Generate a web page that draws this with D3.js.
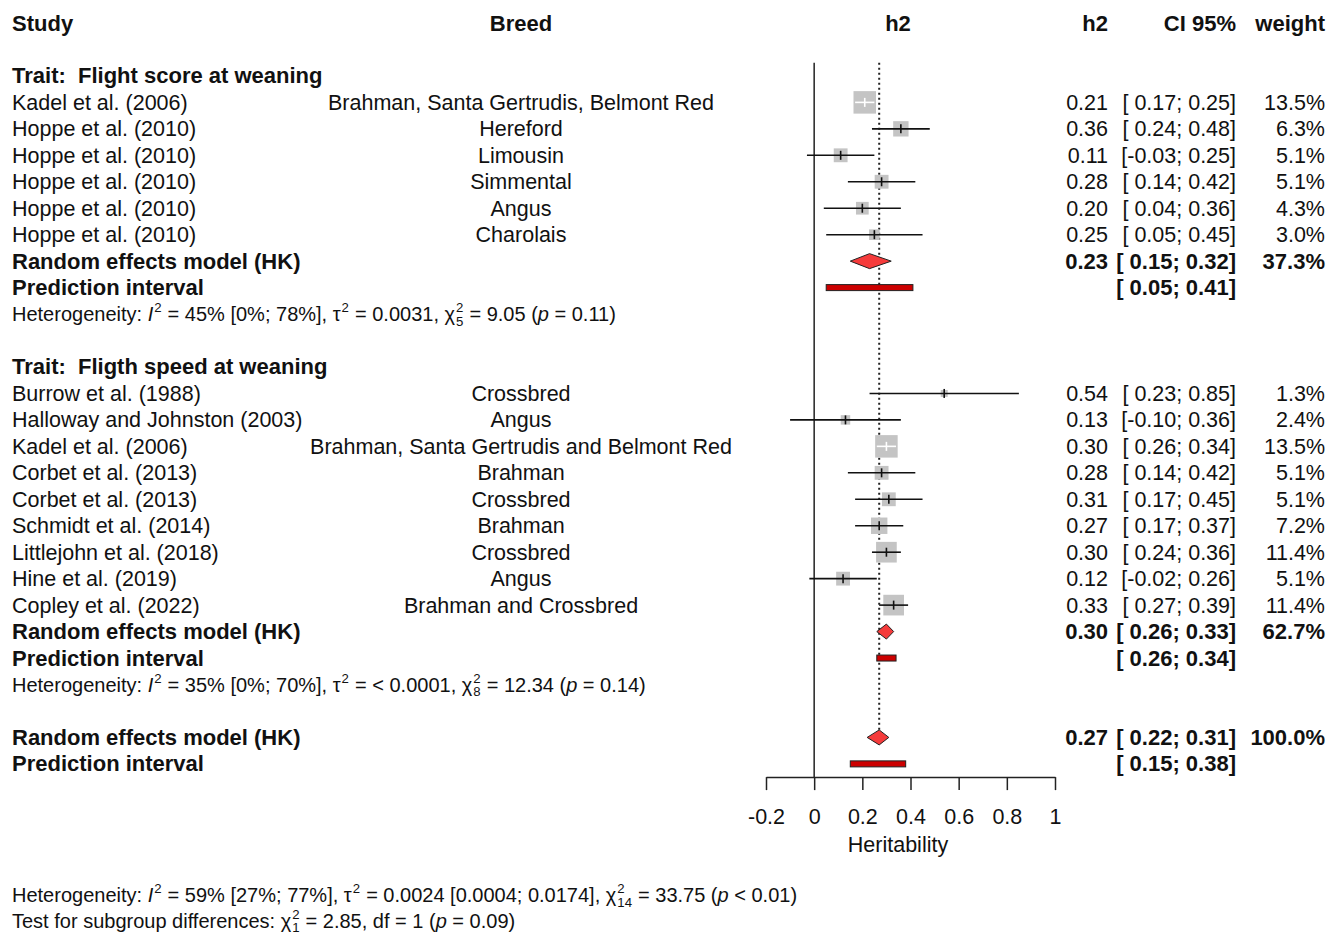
<!DOCTYPE html>
<html>
<head>
<meta charset="utf-8">
<script src="https://cdn.jsdelivr.net/npm/d3@7"></script>
<style>
  body { margin: 0; background: #fff; }
  svg { display: block; font-family: "Liberation Sans", Arial, sans-serif; }
</style>
</head>
<body>
<svg id="forest" width="1328" height="936"></svg>
<script>
// ---- data ----
var traits = ["Flight score at weaning", "Fligth speed at weaning"];

// trait 1 studies
var studies1 = ["Kadel et al. (2006)", "Hoppe et al. (2010)", "Hoppe et al. (2010)", "Hoppe et al. (2010)", "Hoppe et al. (2010)", "Hoppe et al. (2010)"];
var breeds1  = ["Brahman, Santa Gertrudis, Belmont Red", "Hereford", "Limousin", "Simmental", "Angus", "Charolais"];
var h2_1     = [0.21, 0.36, 0.11, 0.28, 0.20, 0.25];
var lower1   = [0.17, 0.24, -0.03, 0.14, 0.04, 0.05];
var upper1   = [0.25, 0.48, 0.25, 0.42, 0.36, 0.45];
var weight1  = [13.5, 6.3, 5.1, 5.1, 4.3, 3.0];

// trait 2 studies
var studies2 = ["Burrow et al. (1988)", "Halloway and Johnston (2003)", "Kadel et al. (2006)", "Corbet et al. (2013)", "Corbet et al. (2013)", "Schmidt et al. (2014)", "Littlejohn et al. (2018)", "Hine et al. (2019)", "Copley et al. (2022)"];
var breeds2  = ["Crossbred", "Angus", "Brahman, Santa Gertrudis and Belmont Red", "Brahman", "Crossbred", "Brahman", "Crossbred", "Angus", "Brahman and Crossbred"];
var h2_2     = [0.54, 0.13, 0.30, 0.28, 0.31, 0.27, 0.30, 0.12, 0.33];
var lower2   = [0.23, -0.10, 0.26, 0.14, 0.17, 0.17, 0.24, -0.02, 0.27];
var upper2   = [0.85, 0.36, 0.34, 0.42, 0.45, 0.37, 0.36, 0.26, 0.39];
var weight2  = [1.3, 2.4, 13.5, 5.1, 5.1, 7.2, 11.4, 5.1, 11.4];

// pooled estimates: trait 1, trait 2, overall
var pooledEst    = [0.23, 0.30, 0.27];
var pooledLower  = [0.15, 0.26, 0.22];
var pooledUpper  = [0.32, 0.33, 0.31];
var pooledWeight = ["37.3%", "62.7%", "100.0%"];
var predLower    = [0.05, 0.26, 0.15];
var predUpper    = [0.41, 0.34, 0.38];

var xTicks = [-0.2, 0, 0.2, 0.4, 0.6, 0.8, 1];

// heterogeneity lines: [text, kind, extra]
var het1 = [["Heterogeneity: "], ["I", "i"], ["2", "sup"], [" = 45% [0%; 78%], "], ["τ"], ["2", "sup"], [" = 0.0031, "], ["χ"], ["2", "supsub", "5"], [" = 9.05 ("], ["p", "i"], [" = 0.11)"]];
var het2 = [["Heterogeneity: "], ["I", "i"], ["2", "sup"], [" = 35% [0%; 70%], "], ["τ"], ["2", "sup"], [" = < 0.0001, "], ["χ"], ["2", "supsub", "8"], [" = 12.34 ("], ["p", "i"], [" = 0.14)"]];
var hetAll = [["Heterogeneity: "], ["I", "i"], ["2", "sup"], [" = 59% [27%; 77%], "], ["τ"], ["2", "sup"], [" = 0.0024 [0.0004; 0.0174], "], ["χ"], ["2", "supsub", "14"], [" = 33.75 ("], ["p", "i"], [" < 0.01)"]];
var subgroupTest = [["Test for subgroup differences: "], ["χ"], ["2", "supsub", "1"], [" = 2.85, df = 1 ("], ["p", "i"], [" = 0.09)"]];

// ---- layout ----
var svg = d3.select("#forest");
var fs = 21.5, fsBold = 22, fsSmall = 20;
var colStudy = 12, colBreed = 521, colPlotHead = 898, colH2 = 1108, colCI = 1236, colW = 1325;

// one row = one line of the table
var rowY = d3.scaleLinear().domain([0, 34]).range([23, 23 + 34 * 26.46]);
var x = d3.scaleLinear().domain([-0.2, 1]).range([766, 1055]);
var boxSize = d3.scaleSqrt().domain([0, 13.5]).range([0, 22.5]);

function fmt(v) { return v.toFixed(2); }   // keeps a plain hyphen for negatives
function ci(lo, hi) {
  return "[" + (lo < 0 ? "" : " ") + fmt(lo) + "; " + fmt(hi) + "]";
}

// assemble study rows
var rows = [];
studies1.forEach(function(s, i) {
  rows.push({row: 3 + i, study: s, breed: breeds1[i], est: h2_1[i], lo: lower1[i], hi: upper1[i], w: weight1[i]});
});
studies2.forEach(function(s, i) {
  rows.push({row: 14 + i, study: s, breed: breeds2[i], est: h2_2[i], lo: lower2[i], hi: upper2[i], w: weight2[i]});
});
var pooled = [9, 23, 27].map(function(r, i) {
  return {row: r, est: pooledEst[i], lo: pooledLower[i], hi: pooledUpper[i], w: pooledWeight[i], plo: predLower[i], phi: predUpper[i]};
});

function addText(txt, xx, row, anchor, bold) {
  return svg.append("text")
    .attr("x", xx)
    .attr("y", rowY(row) + 7.5)
    .attr("text-anchor", anchor)
    .attr("font-size", bold ? fsBold : fs)
    .attr("font-weight", bold ? "bold" : "normal")
    .attr("fill", "#111")
    .style("white-space", "pre")
    .text(txt);
}

// header
addText("Study", colStudy, 0, "start", true);
addText("Breed", colBreed, 0, "middle", true);
addText("h2", colPlotHead, 0, "middle", true);
addText("h2", colH2, 0, "end", true);
addText("CI 95%", colCI, 0, "end", true);
addText("weight", colW, 0, "end", true);

// trait labels
addText("Trait:  " + traits[0], colStudy, 2, "start", true);
addText("Trait:  " + traits[1], colStudy, 13, "start", true);

// study text columns
rows.forEach(function(d) {
  addText(d.study, colStudy, d.row, "start", false);
  addText(d.breed, colBreed, d.row, "middle", false);
  addText(fmt(d.est), colH2, d.row, "end", false);
  addText(ci(d.lo, d.hi), colCI, d.row, "end", false);
  addText(d.w.toFixed(1) + "%", colW, d.row, "end", false);
});

pooled.forEach(function(d) {
  addText("Random effects model (HK)", colStudy, d.row, "start", true);
  addText("Prediction interval", colStudy, d.row + 1, "start", true);
  addText(fmt(d.est), colH2, d.row, "end", true);
  addText(ci(d.lo, d.hi), colCI, d.row, "end", true);
  addText(d.w, colW, d.row, "end", true);
  addText(ci(d.plo, d.phi), colCI, d.row + 1, "end", true);
});

// heterogeneity text with stacked super/subscripts
function richLine(parts, row, size, lift) {
  var g = svg.append("g").attr("fill", "#111").attr("font-size", size);
  var cx = colStudy, base = rowY(row) + 7 - (lift || 0), small = size * 0.66;
  parts.forEach(function(p) {
    var kind = p[1] || "n";
    if (kind === "sup" || kind === "supsub") {
      var t1 = g.append("text").attr("x", cx + 1).attr("y", base - 9).attr("font-size", small).text(p[0]);
      var w = t1.node().getComputedTextLength();
      if (kind === "supsub") {
        var t2 = g.append("text").attr("x", cx + 1).attr("y", base + 4.5).attr("font-size", small).text(p[2]);
        w = Math.max(w, t2.node().getComputedTextLength());
      }
      cx += w + 1.5;
    } else {
      var t = g.append("text").attr("x", cx).attr("y", base)
        .style("white-space", "pre")
        .attr("font-style", kind === "i" ? "italic" : "normal")
        .text(p[0]);
      cx += t.node().getComputedTextLength();
    }
  });
}
richLine(het1, 11, fsSmall);
richLine(het2, 25, fsSmall);
richLine(hetAll, 33, fsSmall, 1);
richLine(subgroupTest, 34, fsSmall, 2);

// ---- plot ----
var plot = svg.append("g");

// line of no effect
plot.append("line")
  .attr("x1", x(0)).attr("x2", x(0))
  .attr("y1", rowY(1.5)).attr("y2", rowY(28.5))
  .attr("stroke", "#222").attr("stroke-width", 1.5);

// overall random effects line
plot.append("line")
  .attr("x1", x(pooledEst[2])).attr("x2", x(pooledEst[2]))
  .attr("y1", rowY(1.5)).attr("y2", rowY(27) - 7.5)
  .attr("stroke", "#222").attr("stroke-width", 2)
  .attr("stroke-dasharray", "2,3");

// study squares
plot.selectAll("rect.box")
  .data(rows)
  .enter().append("rect")
    .attr("class", "box")
    .attr("x", function(d) { return x(d.est) - boxSize(d.w) / 2; })
    .attr("y", function(d) { return rowY(d.row) - boxSize(d.w) / 2; })
    .attr("width", function(d) { return boxSize(d.w); })
    .attr("height", function(d) { return boxSize(d.w); })
    .attr("fill", "#c4c4c4");

// CI inside the box is drawn white
function ciColor(d) { return (x(d.hi) - x(d.lo)) < boxSize(d.w) ? "#fff" : "#111"; }

plot.selectAll("line.ci")
  .data(rows)
  .enter().append("line")
    .attr("class", "ci")
    .attr("x1", function(d) { return x(d.lo); })
    .attr("x2", function(d) { return x(d.hi); })
    .attr("y1", function(d) { return rowY(d.row); })
    .attr("y2", function(d) { return rowY(d.row); })
    .attr("stroke", ciColor)
    .attr("stroke-width", 1.6);

plot.selectAll("line.mid")
  .data(rows)
  .enter().append("line")
    .attr("class", "mid")
    .attr("x1", function(d) { return x(d.est); })
    .attr("x2", function(d) { return x(d.est); })
    .attr("y1", function(d) { return rowY(d.row) - 4.5; })
    .attr("y2", function(d) { return rowY(d.row) + 4.5; })
    .attr("stroke", ciColor)
    .attr("stroke-width", 1.6);

// pooled diamonds
plot.selectAll("path.diamond")
  .data(pooled)
  .enter().append("path")
    .attr("class", "diamond")
    .attr("d", function(d) {
      var y = rowY(d.row);
      return "M" + x(d.lo) + "," + y + "L" + x(d.est) + "," + (y - 7.5) +
             "L" + x(d.hi) + "," + y + "L" + x(d.est) + "," + (y + 7.5) + "Z";
    })
    .attr("fill", "#f53b3b")
    .attr("stroke", "#222")
    .attr("stroke-width", 1);

// prediction intervals
plot.selectAll("rect.pred")
  .data(pooled)
  .enter().append("rect")
    .attr("class", "pred")
    .attr("x", function(d) { return x(d.plo); })
    .attr("y", function(d) { return rowY(d.row + 1) - 3; })
    .attr("width", function(d) { return x(d.phi) - x(d.plo); })
    .attr("height", 6)
    .attr("fill", "#cc0000")
    .attr("stroke", "#222")
    .attr("stroke-width", 1);

// x axis
var axis = plot.append("g")
  .attr("transform", "translate(0," + rowY(28.5) + ")")
  .call(d3.axisBottom(x)
    .tickValues(xTicks)
    .tickSize(13)
    .tickSizeOuter(0)
    .tickPadding(19)
    .tickFormat(function(d) { return String(d); }));
axis.select(".domain").attr("stroke", "#222").attr("stroke-width", 1.5);
axis.selectAll(".tick line").attr("stroke", "#222").attr("stroke-width", 1.5);
axis.selectAll(".tick text")
  .attr("font-size", fs)
  .attr("font-family", "\"Liberation Sans\", Arial, sans-serif")
  .attr("fill", "#111");

svg.append("text")
  .attr("x", colPlotHead)
  .attr("y", 852)
  .attr("text-anchor", "middle")
  .attr("font-size", fs)
  .attr("fill", "#111")
  .text("Heritability");
</script>
</body>
</html>
